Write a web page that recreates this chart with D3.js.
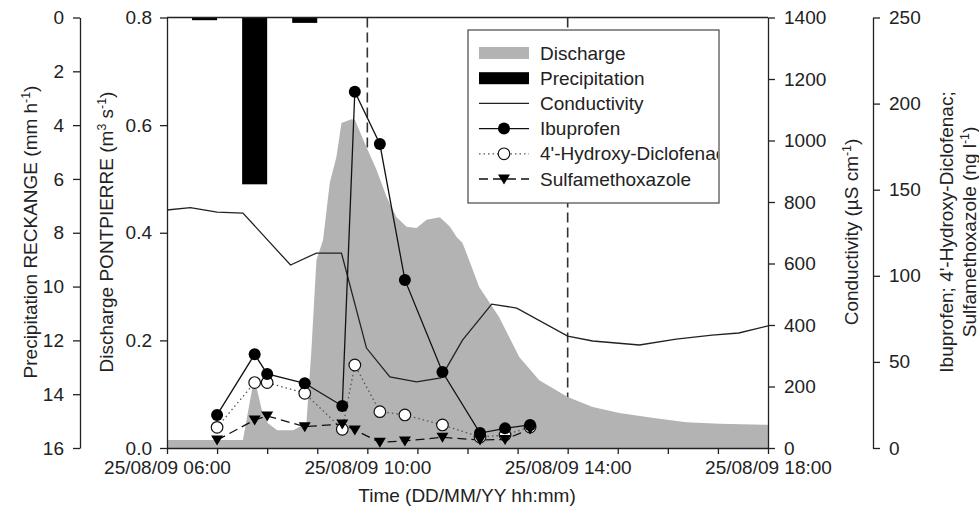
<!DOCTYPE html>
<html><head><meta charset="utf-8">
<script src="https://cdn.jsdelivr.net/npm/d3@7"></script>
<style>
body{margin:0;background:#fff;}
svg text{font-family:"Liberation Sans",Arial,sans-serif;fill:#222;}
</style></head>
<body><svg id="c" width="979" height="530"></svg>
<script>
// ---------- DATA ----------
const dischargeTime = ["06:00","07:31","07:39","07:43","07:48","07:55","08:01","08:12","08:31","08:47","08:53","08:59","09:07","09:15","09:23","09:29","09:41","09:45","09:59","10:11","10:23","10:35","10:47","10:59","11:11","11:27","11:39","11:47","11:54","12:02","12:14","12:38","13:02","13:26","14:00","14:30","15:02","15:41","16:22","17:02","18:00"];
const dischargeValue = [0.015,0.015,0.084,0.117,0.108,0.061,0.046,0.033,0.033,0.046,0.182,0.349,0.387,0.493,0.541,0.604,0.611,0.610,0.559,0.517,0.467,0.429,0.411,0.409,0.424,0.429,0.411,0.392,0.381,0.349,0.299,0.243,0.169,0.126,0.095,0.076,0.065,0.056,0.048,0.045,0.043];

const precipTime = ["07:00","08:00","09:00"];
const precipValue = [0.1,6.2,0.2];

const condTime = ["06:00","06:28","07:00","07:31","08:28","08:59","09:29","09:59","10:27","10:59","11:28","11:54","12:29","12:59","14:00","14:30","15:26","16:10","16:53","17:25","18:00"];
const condValue = [774,782,767,764,595,634,634,325,231,215,228,351,468,455,364,348,335,354,367,374,397];

const sampleTime = ["07:00","07:45","08:00","08:45","09:30","09:45","10:15","10:45","11:30","12:15","12:45","13:15"];
const ibuprofen = [19.2,54.4,43,37.6,24.4,206.9,176.5,97.6,44.1,8.7,11.4,13.4];
const hydroxyDiclofenac = [12,38,38,31.8,10.9,48.2,21.1,19.2,13.4,6.4,7.5,12.2];
const sulfamethoxazole = [4.6,16.3,18.6,12.4,13.9,10.5,3.3,4.1,6.2,4.6,5,11];

const dashedTimes = ["10:00","14:00"];
const xMajorTicks = ["06:00","10:00","14:00","18:00"];
const precipTicks = [0,2,4,6,8,10,12,14,16];
const dischargeTicks = [0,0.2,0.4,0.6,0.8];
const condTicks = [0,200,400,600,800,1000,1200,1400];
const concTicks = [0,50,100,150,200,250];
const legendLabels = ["Discharge","Precipitation","Conductivity","Ibuprofen","4'-Hydroxy-Diclofenac","Sulfamethoxazole"];

// ---------- SETUP ----------
const parse = d3.timeParse("%d/%m/%y %H:%M");
const T = s => parse("25/08/09 " + s);
const svg = d3.select("#c");
const L = 167, R = 768, TOP = 17.5, BOT = 448;
const FS = 19;

const x = d3.scaleTime().domain([T("06:00"), T("18:00")]).range([L, R]);
const yQ = d3.scaleLinear().domain([0, 0.8]).range([BOT, TOP]);
const yP = d3.scaleLinear().domain([0, 16]).range([TOP, BOT]);
const yC = d3.scaleLinear().domain([0, 1400]).range([BOT, TOP]);
const yN = d3.scaleLinear().domain([0, 250]).range([BOT, TOP]);

// dashed reference lines
svg.selectAll("line.ref").data(dashedTimes).join("line")
  .attr("x1", d => x(T(d))).attr("x2", d => x(T(d)))
  .attr("y1", TOP).attr("y2", BOT)
  .attr("stroke", "#333").attr("stroke-width", 1.6).attr("stroke-dasharray", "10,5");

// discharge area
const dis = dischargeTime.map((t, i) => ({t: T(t), v: dischargeValue[i]}));
svg.append("path").datum(dis)
  .attr("d", d3.area().x(d => x(d.t)).y0(yQ(0)).y1(d => yQ(d.v)))
  .attr("fill", "#b3b3b3");

// precipitation bars
const pr = precipTime.map((t, i) => ({t: T(t), v: precipValue[i]}));
svg.selectAll("rect.pr").data(pr).join("rect")
  .attr("x", d => x(d3.timeMinute.offset(d.t, -30)))
  .attr("width", d => x(d.t) - x(d3.timeMinute.offset(d.t, -30)))
  .attr("y", yP(0)).attr("height", d => yP(d.v) - yP(0))
  .attr("fill", "#000");

// conductivity
const cond = condTime.map((t, i) => ({t: T(t), v: condValue[i]}));
svg.append("path").datum(cond)
  .attr("d", d3.line().x(d => x(d.t)).y(d => yC(d.v)))
  .attr("fill", "none").attr("stroke", "#222").attr("stroke-width", 1.3);

// compounds
const mk = arr => sampleTime.map((t, i) => ({t: T(t), v: arr[i]}));
const lineN = d3.line().x(d => x(d.t)).y(d => yN(d.v));
const tri = "M-6,-4.5L6,-4.5L0,5.5Z";

const hd = mk(hydroxyDiclofenac), ib = mk(ibuprofen), su = mk(sulfamethoxazole);
svg.append("path").datum(hd).attr("d", lineN).attr("fill", "none")
  .attr("stroke", "#555").attr("stroke-width", 1.3).attr("stroke-dasharray", "1.5,3");
svg.append("path").datum(ib).attr("d", lineN).attr("fill", "none")
  .attr("stroke", "#111").attr("stroke-width", 1.3);
svg.append("path").datum(su).attr("d", lineN).attr("fill", "none")
  .attr("stroke", "#111").attr("stroke-width", 1.3).attr("stroke-dasharray", "9,5");

svg.selectAll("circle.hd").data(hd).join("circle")
  .attr("cx", d => x(d.t)).attr("cy", d => yN(d.v)).attr("r", 5.8)
  .attr("fill", "#fff").attr("stroke", "#111").attr("stroke-width", 1.2);
svg.selectAll("circle.ib").data(ib).join("circle")
  .attr("cx", d => x(d.t)).attr("cy", d => yN(d.v)).attr("r", 6)
  .attr("fill", "#000");
svg.selectAll("path.su").data(su).join("path")
  .attr("d", tri).attr("transform", d => `translate(${x(d.t)},${yN(d.v)})`)
  .attr("fill", "#000");

// ---------- AXES ----------
function styleAxis(g) {
  g.selectAll("path.domain").attr("stroke", "#222").attr("stroke-width", 1.3);
  g.selectAll(".tick line").attr("stroke", "#222").attr("stroke-width", 1.3);
  g.selectAll(".tick text").attr("font-size", FS).attr("fill", "#222")
    .attr("font-family", '"Liberation Sans",Arial,sans-serif');
}
svg.append("g").attr("transform", `translate(80,0)`)
  .call(d3.axisLeft(yP).tickValues(precipTicks).tickSize(7).tickSizeOuter(0).tickPadding(9).tickFormat(d3.format("d")))
  .call(styleAxis);
svg.append("g").attr("transform", `translate(${L},0)`)
  .call(d3.axisLeft(yQ).tickValues(dischargeTicks).tickSize(7).tickSizeOuter(0).tickPadding(8).tickFormat(d3.format(".1f")))
  .call(styleAxis);
svg.append("g").attr("transform", `translate(${R},0)`)
  .call(d3.axisRight(yC).tickValues(condTicks).tickSize(7).tickSizeOuter(0).tickPadding(9).tickFormat(d3.format("d")))
  .call(styleAxis);
svg.append("g").attr("transform", `translate(873,0)`)
  .call(d3.axisRight(yN).tickValues(concTicks).tickSize(7).tickSizeOuter(0).tickPadding(9).tickFormat(d3.format("d")))
  .call(styleAxis);

const majorSet = new Set(xMajorTicks.map(s => +T(s)));
const fmt = d3.timeFormat("%d/%m/%y %H:%M");
svg.append("g").attr("transform", `translate(0,${BOT})`)
  .call(d3.axisBottom(x).ticks(d3.timeHour.every(1)).tickSize(6).tickSizeOuter(0).tickPadding(7)
    .tickFormat(d => majorSet.has(+d) ? fmt(d) : ""))
  .call(styleAxis);
// top frame line
svg.append("line").attr("x1", L).attr("x2", R).attr("y1", TOP).attr("y2", TOP)
  .attr("stroke", "#222").attr("stroke-width", 1.3);

// ---------- TITLES ----------
function vtitle(cx, cy, parts) {
  const t = svg.append("text").attr("transform", `translate(${cx},${cy}) rotate(-90)`)
    .attr("text-anchor", "middle").attr("dy", "0.35em").attr("font-size", FS);
  parts.forEach(p => {
    const s = t.append("tspan").text(p[0]);
    if (p[1]) s.attr("baseline-shift", "super").attr("font-size", FS * 0.65);
  });
}
vtitle(30, 232, [["Precipitation RECKANGE (mm h"], ["-1", 1], [")"]]);
vtitle(106, 232, [["Discharge PONTPIERRE (m"], ["3", 1], [" s"], ["-1", 1], [")"]]);
vtitle(851, 232, [["Conductivity (µS cm"], ["-1", 1], [")"]]);
vtitle(946, 232, [["Ibuprofen; 4'-Hydroxy-Diclofenac;"]]);
vtitle(969, 232, [["Sulfamethoxazole (ng l"], ["-1", 1], [")"]]);
svg.append("text").attr("x", 467).attr("y", 502).attr("text-anchor", "middle")
  .attr("font-size", FS).text("Time (DD/MM/YY hh:mm)");

// ---------- LEGEND ----------
const lg = svg.append("g");
svg.append("clipPath").attr("id", "lgclip").append("rect")
  .attr("x", 468).attr("y", 30).attr("width", 250).attr("height", 173);
lg.append("rect").attr("x", 468).attr("y", 30).attr("width", 251).attr("height", 173)
  .attr("fill", "#fff");
const rowY = i => 53 + i * 25.2;
const sx0 = 479, sx1 = 529, sxm = 504;
lg.append("rect").attr("x", sx0).attr("y", rowY(0) - 6).attr("width", sx1 - sx0).attr("height", 12).attr("fill", "#b3b3b3");
lg.append("rect").attr("x", sx0).attr("y", rowY(1) - 6).attr("width", sx1 - sx0).attr("height", 12).attr("fill", "#000");
lg.append("line").attr("x1", sx0).attr("x2", sx1).attr("y1", rowY(2)).attr("y2", rowY(2)).attr("stroke", "#222").attr("stroke-width", 1.3);
lg.append("line").attr("x1", sx0).attr("x2", sx1).attr("y1", rowY(3)).attr("y2", rowY(3)).attr("stroke", "#111").attr("stroke-width", 1.3);
lg.append("circle").attr("cx", sxm).attr("cy", rowY(3)).attr("r", 6).attr("fill", "#000");
lg.append("line").attr("x1", sx0).attr("x2", sx1).attr("y1", rowY(4)).attr("y2", rowY(4)).attr("stroke", "#555").attr("stroke-width", 1.3).attr("stroke-dasharray", "1.5,3");
lg.append("circle").attr("cx", sxm).attr("cy", rowY(4)).attr("r", 5.8).attr("fill", "#fff").attr("stroke", "#111").attr("stroke-width", 1.2);
lg.append("line").attr("x1", sx0).attr("x2", sx1).attr("y1", rowY(5)).attr("y2", rowY(5)).attr("stroke", "#111").attr("stroke-width", 1.3).attr("stroke-dasharray", "9,5");
lg.append("path").attr("d", tri).attr("transform", `translate(${sxm},${rowY(5)})`).attr("fill", "#000");
lg.append("g").attr("clip-path", "url(#lgclip)")
  .selectAll("text.lt").data(legendLabels).join("text")
  .attr("x", 540).attr("y", (d, i) => rowY(i)).attr("dy", "0.35em")
  .attr("font-size", FS).text(d => d);
lg.append("rect").attr("x", 468).attr("y", 30).attr("width", 251).attr("height", 173)
  .attr("fill", "none").attr("stroke", "#555").attr("stroke-width", 1.3);
</script></body></html>
